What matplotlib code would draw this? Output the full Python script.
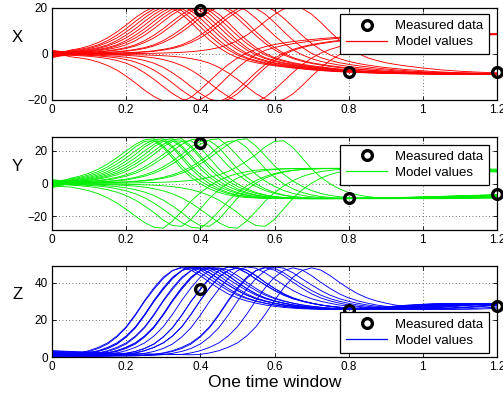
import matplotlib.pyplot as plt
from matplotlib.lines import Line2D
import numpy as np

plt.rcParams['font.family'] = ['Liberation Sans', 'DejaVu Sans']

# time axis of one assimilation window (step 0.025)
t = np.linspace(0.0, 1.2, 49)

# ensemble members (model values), X component
model_x = [
    [1.0, 1.0, 1.4, 2.0, 2.8, 4.0, 5.8, 8.2, 11.0, 14.2, 17.2, 19.6, 20.6, 19.8, 17.3, 13.7, 9.7, 6.0, 2.8, 0.3, -1.6, -2.8, -3.8, -4.5, -5.1, -5.6, -6.1, -6.5, -6.9, -7.2, -7.5, -7.7, -7.9, -8.05, -8.2, -8.3, -8.4, -8.5, -8.6, -8.65, -8.7, -8.75, -8.8, -8.8, -8.8, -8.75, -8.7, -8.6, -8.5],
    [-0.8, 0.5, 1.7, 2.4, 3.5, 5.0, 7.0, 9.6, 12.6, 15.8, 18.5, 20.5, 21.3, 20.8, 18.8, 15.5, 11.8, 8.0, 4.6, 1.8, -0.4, -2.0, -3.2, -4.1, -4.8, -5.4, -5.9, -6.3, -6.7, -7.0, -7.3, -7.6, -7.8, -8.0, -8.1, -8.2, -8.3, -8.4, -8.45, -8.5, -8.55, -8.6, -8.6, -8.6, -8.6, -8.55, -8.5, -8.45, -8.4],
    [1.5, 1.1, 1.0, 1.4, 2.0, 2.8, 4.0, 5.8, 8.2, 11.0, 14.2, 17.2, 19.6, 20.6, 19.8, 17.3, 13.7, 9.7, 6.0, 2.8, 0.3, -1.6, -2.8, -3.8, -4.5, -5.1, -5.6, -6.1, -6.5, -6.9, -7.2, -7.5, -7.7, -7.9, -8.05, -8.2, -8.3, -8.4, -8.5, -8.6, -8.65, -8.7, -8.75, -8.8, -8.8, -8.8, -8.75, -8.7, -8.6],
    [-1.2, 0.0, 1.2, 1.7, 2.4, 3.5, 5.0, 7.0, 9.6, 12.6, 15.8, 18.5, 20.5, 21.3, 20.8, 18.8, 15.5, 11.8, 8.0, 4.6, 1.8, -0.4, -2.0, -3.2, -4.1, -4.8, -5.4, -5.9, -6.3, -6.7, -7.0, -7.3, -7.6, -7.8, -8.0, -8.1, -8.2, -8.3, -8.4, -8.45, -8.5, -8.55, -8.6, -8.6, -8.6, -8.6, -8.55, -8.5, -8.45],
    [0.3, 0.5, 0.75, 1.0, 1.4, 2.0, 2.8, 4.0, 5.8, 8.2, 11.0, 14.2, 17.2, 19.6, 20.6, 19.8, 17.3, 13.7, 9.7, 6.0, 2.8, 0.3, -1.6, -2.8, -3.8, -4.5, -5.1, -5.6, -6.1, -6.5, -6.9, -7.2, -7.5, -7.7, -7.9, -8.05, -8.2, -8.3, -8.4, -8.5, -8.6, -8.65, -8.7, -8.75, -8.8, -8.8, -8.8, -8.75, -8.7],
    [1.2, 0.9, 0.85, 1.2, 1.7, 2.4, 3.5, 5.0, 7.0, 9.6, 12.6, 15.8, 18.5, 20.5, 21.3, 20.8, 18.8, 15.5, 11.8, 8.0, 4.6, 1.8, -0.4, -2.0, -3.2, -4.1, -4.8, -5.4, -5.9, -6.3, -6.7, -7.0, -7.3, -7.6, -7.8, -8.0, -8.1, -8.2, -8.3, -8.4, -8.45, -8.5, -8.55, -8.6, -8.6, -8.6, -8.6, -8.55, -8.5],
    [-0.4, 0.2, 0.6, 0.85, 1.2, 1.7, 2.4, 3.5, 5.0, 7.0, 9.6, 12.6, 15.8, 18.5, 20.5, 21.3, 20.8, 18.8, 15.5, 11.8, 8.0, 4.6, 1.8, -0.4, -2.0, -3.2, -4.1, -4.8, -5.4, -5.9, -6.3, -6.7, -7.0, -7.3, -7.6, -7.8, -8.0, -8.1, -8.2, -8.3, -8.4, -8.45, -8.5, -8.55, -8.6, -8.6, -8.6, -8.6, -8.55],
    [0.9, 0.6, 0.55, 0.75, 1.0, 1.4, 2.0, 2.8, 4.0, 5.8, 8.2, 11.0, 14.2, 17.2, 19.6, 20.6, 19.8, 17.3, 13.7, 9.7, 6.0, 2.8, 0.3, -1.6, -2.8, -3.8, -4.5, -5.1, -5.6, -6.1, -6.5, -6.9, -7.2, -7.5, -7.7, -7.9, -8.05, -8.2, -8.3, -8.4, -8.5, -8.6, -8.65, -8.7, -8.75, -8.8, -8.8, -8.8, -8.75],
    [-0.6, 0.0, 0.42, 0.55, 0.75, 1.0, 1.4, 2.0, 2.8, 4.0, 5.8, 8.2, 11.0, 14.2, 17.2, 19.6, 20.6, 19.8, 17.3, 13.7, 9.7, 6.0, 2.8, 0.3, -1.6, -2.8, -3.8, -4.5, -5.1, -5.6, -6.1, -6.5, -6.9, -7.2, -7.5, -7.7, -7.9, -8.05, -8.2, -8.3, -8.4, -8.5, -8.6, -8.65, -8.7, -8.75, -8.8, -8.8, -8.8],
    [1.3, 0.7, 0.35, 0.45, 0.6, 0.85, 1.2, 1.7, 2.4, 3.5, 5.0, 7.0, 9.6, 12.6, 15.8, 18.5, 20.5, 21.3, 20.8, 18.8, 15.5, 11.8, 8.0, 4.6, 1.8, -0.4, -2.0, -3.2, -4.1, -4.8, -5.4, -5.9, -6.3, -6.7, -7.0, -7.3, -7.6, -7.8, -8.0, -8.1, -8.2, -8.3, -8.4, -8.45, -8.5, -8.55, -8.6, -8.6, -8.6],
    [-1.0, -0.3, 0.25, 0.32, 0.42, 0.55, 0.75, 1.0, 1.4, 2.0, 2.8, 4.0, 5.8, 8.2, 11.0, 14.2, 17.2, 19.6, 20.6, 19.8, 17.3, 13.7, 9.7, 6.0, 2.8, 0.3, -1.6, -2.8, -3.8, -4.5, -5.1, -5.6, -6.1, -6.5, -6.9, -7.2, -7.5, -7.7, -7.9, -8.05, -8.2, -8.3, -8.4, -8.5, -8.6, -8.65, -8.7, -8.75, -8.8],
    [0.6, 0.35, 0.22, 0.28, 0.35, 0.45, 0.6, 0.85, 1.2, 1.7, 2.4, 3.5, 5.0, 7.0, 9.6, 12.6, 15.8, 18.5, 20.5, 21.3, 20.8, 18.8, 15.5, 11.8, 8.0, 4.6, 1.8, -0.4, -2.0, -3.2, -4.1, -4.8, -5.4, -5.9, -6.3, -6.7, -7.0, -7.3, -7.6, -7.8, -8.0, -8.1, -8.2, -8.3, -8.4, -8.45, -8.5, -8.55, -8.6],
    [-0.3, -0.1, 0.1, 0.15, 0.2, 0.25, 0.32, 0.42, 0.55, 0.75, 1.0, 1.4, 2.0, 2.8, 4.0, 5.8, 8.2, 11.0, 14.2, 17.2, 19.6, 20.6, 19.8, 17.3, 13.7, 9.7, 6.0, 2.8, 0.3, -1.6, -2.8, -3.8, -4.5, -5.1, -5.6, -6.1, -6.5, -6.9, -7.2, -7.5, -7.7, -7.9, -8.05, -8.2, -8.3, -8.4, -8.5, -8.6, -8.65],
    [1.6, 0.8, 0.3, 0.12, 0.17, 0.22, 0.28, 0.35, 0.45, 0.6, 0.85, 1.2, 1.7, 2.4, 3.5, 5.0, 7.0, 9.6, 12.6, 15.8, 18.5, 20.5, 21.3, 20.8, 18.8, 15.5, 11.8, 8.0, 4.6, 1.8, -0.4, -2.0, -3.2, -4.1, -4.8, -5.4, -5.9, -6.3, -6.7, -7.0, -7.3, -7.6, -7.8, -8.0, -8.1, -8.2, -8.3, -8.4, -8.45],
    [-1.4, -0.6, -0.1, 0.1, 0.1, 0.1, 0.1, 0.1, 0.15, 0.2, 0.25, 0.32, 0.42, 0.55, 0.75, 1.0, 1.4, 2.0, 2.8, 4.0, 5.8, 8.2, 11.0, 14.2, 17.2, 19.6, 20.6, 19.8, 17.3, 13.7, 9.7, 6.0, 2.8, 0.3, -1.6, -2.8, -3.8, -4.5, -5.1, -5.6, -6.1, -6.5, -6.9, -7.2, -7.5, -7.7, -7.9, -8.05, -8.2],
    [0.4, -0.3, -1.2, -1.7, -2.4, -3.5, -5.0, -7.0, -9.6, -12.6, -15.8, -18.5, -20.5, -21.3, -20.8, -18.8, -15.5, -11.8, -8.0, -4.6, -1.8, 0.4, 2.0, 3.2, 4.1, 4.8, 5.4, 5.9, 6.3, 6.7, 7.0, 7.3, 7.6, 7.8, 8.0, 8.1, 8.2, 8.3, 8.4, 8.45, 8.5, 8.55, 8.6, 8.6, 8.6, 8.6, 8.55, 8.5, 8.45],
    [-1.6, -0.8, -0.55, -0.75, -1.0, -1.4, -2.0, -2.8, -4.0, -5.8, -8.2, -11.0, -14.2, -17.2, -19.6, -20.6, -19.8, -17.3, -13.7, -9.7, -6.0, -2.8, -0.3, 1.6, 2.8, 3.8, 4.5, 5.1, 5.6, 6.1, 6.5, 6.9, 7.2, 7.5, 7.7, 7.9, 8.05, 8.2, 8.3, 8.4, 8.5, 8.6, 8.65, 8.7, 8.75, 8.8, 8.8, 8.8, 8.75],
    [1.0, 0.3, -0.35, -0.45, -0.6, -0.85, -1.2, -1.7, -2.4, -3.5, -5.0, -7.0, -9.6, -12.6, -15.8, -18.5, -20.5, -21.3, -20.8, -18.8, -15.5, -11.8, -8.0, -4.6, -1.8, 0.4, 2.0, 3.2, 4.1, 4.8, 5.4, 5.9, 6.3, 6.7, 7.0, 7.3, 7.6, 7.8, 8.0, 8.1, 8.2, 8.3, 8.4, 8.45, 8.5, 8.55, 8.6, 8.6, 8.6],
    [-0.7, -0.4, -0.25, -0.32, -0.42, -0.55, -0.75, -1.0, -1.4, -2.0, -2.8, -4.0, -5.8, -8.2, -11.0, -14.2, -17.2, -19.6, -20.6, -19.8, -17.3, -13.7, -9.7, -6.0, -2.8, -0.3, 1.6, 2.8, 3.8, 4.5, 5.1, 5.6, 6.1, 6.5, 6.9, 7.2, 7.5, 7.7, 7.9, 8.05, 8.2, 8.3, 8.4, 8.5, 8.6, 8.65, 8.7, 8.75, 8.8],
    [0.8, 0.3, -0.12, -0.17, -0.22, -0.28, -0.35, -0.45, -0.6, -0.85, -1.2, -1.7, -2.4, -3.5, -5.0, -7.0, -9.6, -12.6, -15.8, -18.5, -20.5, -21.3, -20.8, -18.8, -15.5, -11.8, -8.0, -4.6, -1.8, 0.4, 2.0, 3.2, 4.1, 4.8, 5.4, 5.9, 6.3, 6.7, 7.0, 7.3, 7.6, 7.8, 8.0, 8.1, 8.2, 8.3, 8.4, 8.45, 8.5],
    [-1.2, -0.5, -0.1, -0.1, -0.1, -0.1, -0.15, -0.2, -0.25, -0.32, -0.42, -0.55, -0.75, -1.0, -1.4, -2.0, -2.8, -4.0, -5.8, -8.2, -11.0, -14.2, -17.2, -19.6, -20.6, -19.8, -17.3, -13.7, -9.7, -6.0, -2.8, -0.3, 1.6, 2.8, 3.8, 4.5, 5.1, 5.6, 6.1, 6.5, 6.9, 7.2, 7.5, 7.7, 7.9, 8.05, 8.2, 8.3, 8.4],
]

# Y component
model_y = [
    [2.0, 1.9, 2.7, 3.8, 5.3, 7.4, 10.2, 13.8, 17.8, 22.5, 25.8, 26.2, 22.0, 15.5, 9.0, 3.8, -0.2, -3.3, -5.5, -7.0, -8.0, -8.6, -8.9, -9.1, -9.2, -9.25, -9.3, -9.3, -9.3, -9.25, -9.2, -9.15, -9.1, -9.05, -9.0, -8.9, -8.8, -8.7, -8.6, -8.45, -8.3, -8.15, -8.0, -7.8, -7.6, -7.45, -7.3, -7.15, -7.0],
    [-1.0, 0.8, 3.2, 4.5, 6.3, 8.8, 12.0, 15.8, 20.0, 24.0, 26.8, 27.4, 23.0, 17.0, 10.8, 5.6, 1.5, -1.8, -4.3, -6.1, -7.3, -8.1, -8.6, -8.9, -9.05, -9.15, -9.2, -9.2, -9.2, -9.15, -9.1, -9.05, -9.0, -8.95, -8.9, -8.8, -8.7, -8.6, -8.5, -8.35, -8.2, -8.05, -7.9, -7.7, -7.5, -7.35, -7.2, -7.05, -6.9],
    [0.5, 1.4, 1.9, 2.7, 3.8, 5.3, 7.4, 10.2, 13.8, 17.8, 22.5, 25.8, 26.2, 22.0, 15.5, 9.0, 3.8, -0.2, -3.3, -5.5, -7.0, -8.0, -8.6, -8.9, -9.1, -9.2, -9.25, -9.3, -9.3, -9.3, -9.25, -9.2, -9.15, -9.1, -9.05, -9.0, -8.9, -8.8, -8.7, -8.6, -8.45, -8.3, -8.15, -8.0, -7.8, -7.6, -7.45, -7.3, -7.15],
    [1.8, 1.6, 2.2, 3.2, 4.5, 6.3, 8.8, 12.0, 15.8, 20.0, 24.0, 26.8, 27.4, 23.0, 17.0, 10.8, 5.6, 1.5, -1.8, -4.3, -6.1, -7.3, -8.1, -8.6, -8.9, -9.05, -9.15, -9.2, -9.2, -9.2, -9.15, -9.1, -9.05, -9.0, -8.95, -8.9, -8.8, -8.7, -8.6, -8.5, -8.35, -8.2, -8.05, -7.9, -7.7, -7.5, -7.35, -7.2, -7.05],
    [-1.5, 0.0, 1.4, 1.9, 2.7, 3.8, 5.3, 7.4, 10.2, 13.8, 17.8, 22.5, 25.8, 26.2, 22.0, 15.5, 9.0, 3.8, -0.2, -3.3, -5.5, -7.0, -8.0, -8.6, -8.9, -9.1, -9.2, -9.25, -9.3, -9.3, -9.3, -9.25, -9.2, -9.15, -9.1, -9.05, -9.0, -8.9, -8.8, -8.7, -8.6, -8.45, -8.3, -8.15, -8.0, -7.8, -7.6, -7.45, -7.3],
    [0.2, 1.2, 1.6, 2.2, 3.2, 4.5, 6.3, 8.8, 12.0, 15.8, 20.0, 24.0, 26.8, 27.4, 23.0, 17.0, 10.8, 5.6, 1.5, -1.8, -4.3, -6.1, -7.3, -8.1, -8.6, -8.9, -9.05, -9.15, -9.2, -9.2, -9.2, -9.15, -9.1, -9.05, -9.0, -8.95, -8.9, -8.8, -8.7, -8.6, -8.5, -8.35, -8.2, -8.05, -7.9, -7.7, -7.5, -7.35, -7.2],
    [2.4, 1.5, 1.2, 1.6, 2.2, 3.2, 4.5, 6.3, 8.8, 12.0, 15.8, 20.0, 24.0, 26.8, 27.4, 23.0, 17.0, 10.8, 5.6, 1.5, -1.8, -4.3, -6.1, -7.3, -8.1, -8.6, -8.9, -9.05, -9.15, -9.2, -9.2, -9.2, -9.15, -9.1, -9.05, -9.0, -8.95, -8.9, -8.8, -8.7, -8.6, -8.5, -8.35, -8.2, -8.05, -7.9, -7.7, -7.5, -7.35],
    [-0.6, 0.3, 1.0, 1.4, 1.9, 2.7, 3.8, 5.3, 7.4, 10.2, 13.8, 17.8, 22.5, 25.8, 26.2, 22.0, 15.5, 9.0, 3.8, -0.2, -3.3, -5.5, -7.0, -8.0, -8.6, -8.9, -9.1, -9.2, -9.25, -9.3, -9.3, -9.3, -9.25, -9.2, -9.15, -9.1, -9.05, -9.0, -8.9, -8.8, -8.7, -8.6, -8.45, -8.3, -8.15, -8.0, -7.8, -7.6, -7.45],
    [1.2, 0.8, 0.8, 1.0, 1.4, 1.9, 2.7, 3.8, 5.3, 7.4, 10.2, 13.8, 17.8, 22.5, 25.8, 26.2, 22.0, 15.5, 9.0, 3.8, -0.2, -3.3, -5.5, -7.0, -8.0, -8.6, -8.9, -9.1, -9.2, -9.25, -9.3, -9.3, -9.3, -9.25, -9.2, -9.15, -9.1, -9.05, -9.0, -8.9, -8.8, -8.7, -8.6, -8.45, -8.3, -8.15, -8.0, -7.8, -7.6],
    [-2.0, -0.6, 0.7, 0.9, 1.2, 1.6, 2.2, 3.2, 4.5, 6.3, 8.8, 12.0, 15.8, 20.0, 24.0, 26.8, 27.4, 23.0, 17.0, 10.8, 5.6, 1.5, -1.8, -4.3, -6.1, -7.3, -8.1, -8.6, -8.9, -9.05, -9.15, -9.2, -9.2, -9.2, -9.15, -9.1, -9.05, -9.0, -8.95, -8.9, -8.8, -8.7, -8.6, -8.5, -8.35, -8.2, -8.05, -7.9, -7.7],
    [0.8, 0.5, 0.5, 0.6, 0.8, 1.0, 1.4, 1.9, 2.7, 3.8, 5.3, 7.4, 10.2, 13.8, 17.8, 22.5, 25.8, 26.2, 22.0, 15.5, 9.0, 3.8, -0.2, -3.3, -5.5, -7.0, -8.0, -8.6, -8.9, -9.1, -9.2, -9.25, -9.3, -9.3, -9.3, -9.25, -9.2, -9.15, -9.1, -9.05, -9.0, -8.9, -8.8, -8.7, -8.6, -8.45, -8.3, -8.15, -8.0],
    [-0.3, 0.1, 0.45, 0.55, 0.7, 0.9, 1.2, 1.6, 2.2, 3.2, 4.5, 6.3, 8.8, 12.0, 15.8, 20.0, 24.0, 26.8, 27.4, 23.0, 17.0, 10.8, 5.6, 1.5, -1.8, -4.3, -6.1, -7.3, -8.1, -8.6, -8.9, -9.05, -9.15, -9.2, -9.2, -9.2, -9.15, -9.1, -9.05, -9.0, -8.95, -8.9, -8.8, -8.7, -8.6, -8.5, -8.35, -8.2, -8.05],
    [1.5, 0.8, 0.3, 0.3, 0.4, 0.5, 0.6, 0.8, 1.0, 1.4, 1.9, 2.7, 3.8, 5.3, 7.4, 10.2, 13.8, 17.8, 22.5, 25.8, 26.2, 22.0, 15.5, 9.0, 3.8, -0.2, -3.3, -5.5, -7.0, -8.0, -8.6, -8.9, -9.1, -9.2, -9.25, -9.3, -9.3, -9.3, -9.25, -9.2, -9.15, -9.1, -9.05, -9.0, -8.9, -8.8, -8.7, -8.6, -8.45],
    [-1.1, -0.3, 0.1, 0.25, 0.35, 0.45, 0.55, 0.7, 0.9, 1.2, 1.6, 2.2, 3.2, 4.5, 6.3, 8.8, 12.0, 15.8, 20.0, 24.0, 26.8, 27.4, 23.0, 17.0, 10.8, 5.6, 1.5, -1.8, -4.3, -6.1, -7.3, -8.1, -8.6, -8.9, -9.05, -9.15, -9.2, -9.2, -9.2, -9.15, -9.1, -9.05, -9.0, -8.95, -8.9, -8.8, -8.7, -8.6, -8.5],
    [0.4, 0.3, 0.2, 0.2, 0.2, 0.2, 0.2, 0.2, 0.3, 0.4, 0.5, 0.6, 0.8, 1.0, 1.4, 1.9, 2.7, 3.8, 5.3, 7.4, 10.2, 13.8, 17.8, 22.5, 25.8, 26.2, 22.0, 15.5, 9.0, 3.8, -0.2, -3.3, -5.5, -7.0, -8.0, -8.6, -8.9, -9.1, -9.2, -9.25, -9.3, -9.3, -9.3, -9.25, -9.2, -9.15, -9.1, -9.05, -9.0],
    [-2.2, -1.8, -2.2, -3.2, -4.5, -6.3, -8.8, -12.0, -15.8, -20.0, -24.0, -26.8, -27.4, -23.0, -17.0, -10.8, -5.6, -1.5, 1.8, 4.3, 6.1, 7.3, 8.1, 8.6, 8.9, 9.05, 9.15, 9.2, 9.2, 9.2, 9.15, 9.1, 9.05, 9.0, 8.95, 8.9, 8.8, 8.7, 8.6, 8.5, 8.35, 8.2, 8.05, 7.9, 7.7, 7.5, 7.35, 7.2, 7.05],
    [0.6, -0.2, -1.0, -1.4, -1.9, -2.7, -3.8, -5.3, -7.4, -10.2, -13.8, -17.8, -22.5, -25.8, -26.2, -22.0, -15.5, -9.0, -3.8, 0.2, 3.3, 5.5, 7.0, 8.0, 8.6, 8.9, 9.1, 9.2, 9.25, 9.3, 9.3, 9.3, 9.25, 9.2, 9.15, 9.1, 9.05, 9.0, 8.9, 8.8, 8.7, 8.6, 8.45, 8.3, 8.15, 8.0, 7.8, 7.6, 7.45],
    [-1.4, -0.9, -0.7, -0.9, -1.2, -1.6, -2.2, -3.2, -4.5, -6.3, -8.8, -12.0, -15.8, -20.0, -24.0, -26.8, -27.4, -23.0, -17.0, -10.8, -5.6, -1.5, 1.8, 4.3, 6.1, 7.3, 8.1, 8.6, 8.9, 9.05, 9.15, 9.2, 9.2, 9.2, 9.15, 9.1, 9.05, 9.0, 8.95, 8.9, 8.8, 8.7, 8.6, 8.5, 8.35, 8.2, 8.05, 7.9, 7.7],
    [1.8, 0.6, -0.5, -0.6, -0.8, -1.0, -1.4, -1.9, -2.7, -3.8, -5.3, -7.4, -10.2, -13.8, -17.8, -22.5, -25.8, -26.2, -22.0, -15.5, -9.0, -3.8, 0.2, 3.3, 5.5, 7.0, 8.0, 8.6, 8.9, 9.1, 9.2, 9.25, 9.3, 9.3, 9.3, 9.25, 9.2, 9.15, 9.1, 9.05, 9.0, 8.9, 8.8, 8.7, 8.6, 8.45, 8.3, 8.15, 8.0],
    [-0.9, -0.5, -0.25, -0.35, -0.45, -0.55, -0.7, -0.9, -1.2, -1.6, -2.2, -3.2, -4.5, -6.3, -8.8, -12.0, -15.8, -20.0, -24.0, -26.8, -27.4, -23.0, -17.0, -10.8, -5.6, -1.5, 1.8, 4.3, 6.1, 7.3, 8.1, 8.6, 8.9, 9.05, 9.15, 9.2, 9.2, 9.2, 9.15, 9.1, 9.05, 9.0, 8.95, 8.9, 8.8, 8.7, 8.6, 8.5, 8.35],
    [-2.4, -1.0, -0.3, -0.2, -0.2, -0.2, -0.3, -0.4, -0.5, -0.6, -0.8, -1.0, -1.4, -1.9, -2.7, -3.8, -5.3, -7.4, -10.2, -13.8, -17.8, -22.5, -25.8, -26.2, -22.0, -15.5, -9.0, -3.8, 0.2, 3.3, 5.5, 7.0, 8.0, 8.6, 8.9, 9.1, 9.2, 9.25, 9.3, 9.3, 9.3, 9.25, 9.2, 9.15, 9.1, 9.05, 9.0, 8.9, 8.8],
]

# Z component
model_z = [
    [0.9, 0.9, 1.4, 2.2, 3.4, 5.2, 7.6, 11.3, 16.3, 23.0, 30.5, 37.3, 43.0, 46.6, 48.0, 46.8, 43.8, 40.2, 36.9, 34.0, 31.8, 30.2, 29.0, 28.0, 27.3, 26.7, 26.3, 26.0, 25.8, 25.7, 25.7, 25.7, 25.8, 26.0, 26.3, 26.6, 26.9, 27.3, 27.7, 28.0, 28.3, 28.5, 28.6, 28.6, 28.5, 28.3, 28.0, 27.8, 27.6],
    [2.0, 1.9, 1.8, 2.0, 3.0, 4.6, 7.0, 10.8, 15.8, 22.5, 30.0, 36.5, 42.3, 46.5, 48.5, 47.8, 45.3, 42.0, 38.8, 35.8, 33.3, 31.4, 30.0, 28.9, 28.0, 27.3, 26.8, 26.4, 26.1, 25.9, 25.8, 25.8, 25.9, 26.1, 26.4, 26.7, 27.0, 27.4, 27.8, 28.1, 28.4, 28.6, 28.7, 28.7, 28.6, 28.4, 28.2, 27.9, 27.7],
    [1.0, 0.95, 0.95, 1.4, 2.2, 3.4, 5.2, 7.6, 11.3, 16.3, 23.0, 30.5, 37.3, 43.0, 46.6, 48.0, 46.8, 43.8, 40.2, 36.9, 34.0, 31.8, 30.2, 29.0, 28.0, 27.3, 26.7, 26.3, 26.0, 25.8, 25.7, 25.7, 25.7, 25.8, 26.0, 26.3, 26.6, 26.9, 27.3, 27.7, 28.0, 28.3, 28.5, 28.6, 28.6, 28.5, 28.3, 28.0, 27.8],
    [3.2, 3.0, 2.8, 2.6, 2.6, 3.2, 4.6, 7.0, 10.8, 15.8, 22.5, 30.0, 36.5, 42.3, 46.5, 48.5, 47.8, 45.3, 42.0, 38.8, 35.8, 33.3, 31.4, 30.0, 28.9, 28.0, 27.3, 26.8, 26.4, 26.1, 25.9, 25.8, 25.8, 25.9, 26.1, 26.4, 26.7, 27.0, 27.4, 27.8, 28.1, 28.4, 28.6, 28.7, 28.7, 28.6, 28.4, 28.2, 27.9],
    [0.3, 0.4, 0.6, 0.9, 1.4, 2.2, 3.4, 5.2, 7.6, 11.3, 16.3, 23.0, 30.5, 37.3, 43.0, 46.6, 48.0, 46.8, 43.8, 40.2, 36.9, 34.0, 31.8, 30.2, 29.0, 28.0, 27.3, 26.7, 26.3, 26.0, 25.8, 25.7, 25.7, 25.7, 25.8, 26.0, 26.3, 26.6, 26.9, 27.3, 27.7, 28.0, 28.3, 28.5, 28.6, 28.6, 28.5, 28.3, 28.0],
    [1.2, 1.1, 1.0, 1.0, 1.3, 2.0, 3.0, 4.6, 7.0, 10.8, 15.8, 22.5, 30.0, 36.5, 42.3, 46.5, 48.5, 47.8, 45.3, 42.0, 38.8, 35.8, 33.3, 31.4, 30.0, 28.9, 28.0, 27.3, 26.8, 26.4, 26.1, 25.9, 25.8, 25.8, 25.9, 26.1, 26.4, 26.7, 27.0, 27.4, 27.8, 28.1, 28.4, 28.6, 28.7, 28.7, 28.6, 28.4, 28.2],
    [2.6, 2.4, 2.2, 2.1, 2.0, 2.0, 2.3, 3.0, 4.6, 7.0, 10.8, 15.8, 22.5, 30.0, 36.5, 42.3, 46.5, 48.5, 47.8, 45.3, 42.0, 38.8, 35.8, 33.3, 31.4, 30.0, 28.9, 28.0, 27.3, 26.8, 26.4, 26.1, 25.9, 25.8, 25.8, 25.9, 26.1, 26.4, 26.7, 27.0, 27.4, 27.8, 28.1, 28.4, 28.6, 28.7, 28.7, 28.6, 28.4],
    [0.8, 0.75, 0.7, 0.7, 0.9, 1.4, 2.2, 3.4, 5.2, 7.6, 11.3, 16.3, 23.0, 30.5, 37.3, 43.0, 46.6, 48.0, 46.8, 43.8, 40.2, 36.9, 34.0, 31.8, 30.2, 29.0, 28.0, 27.3, 26.7, 26.3, 26.0, 25.8, 25.7, 25.7, 25.7, 25.8, 26.0, 26.3, 26.6, 26.9, 27.3, 27.7, 28.0, 28.3, 28.5, 28.6, 28.6, 28.5, 28.3],
    [1.8, 1.7, 1.6, 1.5, 1.4, 1.3, 1.4, 2.2, 3.4, 5.2, 7.6, 11.3, 16.3, 23.0, 30.5, 37.3, 43.0, 46.6, 48.0, 46.8, 43.8, 40.2, 36.9, 34.0, 31.8, 30.2, 29.0, 28.0, 27.3, 26.7, 26.3, 26.0, 25.8, 25.7, 25.7, 25.7, 25.8, 26.0, 26.3, 26.6, 26.9, 27.3, 27.7, 28.0, 28.3, 28.5, 28.6, 28.6, 28.5],
    [0.2, 0.3, 0.4, 0.5, 0.5, 0.7, 0.9, 1.3, 2.0, 3.0, 4.6, 7.0, 10.8, 15.8, 22.5, 30.0, 36.5, 42.3, 46.5, 48.5, 47.8, 45.3, 42.0, 38.8, 35.8, 33.3, 31.4, 30.0, 28.9, 28.0, 27.3, 26.8, 26.4, 26.1, 25.9, 25.8, 25.8, 25.9, 26.1, 26.4, 26.7, 27.0, 27.4, 27.8, 28.1, 28.4, 28.6, 28.7, 28.7],
    [1.1, 1.0, 0.9, 0.8, 0.7, 0.6, 0.6, 0.9, 1.4, 2.2, 3.4, 5.2, 7.6, 11.3, 16.3, 23.0, 30.5, 37.3, 43.0, 46.6, 48.0, 46.8, 43.8, 40.2, 36.9, 34.0, 31.8, 30.2, 29.0, 28.0, 27.3, 26.7, 26.3, 26.0, 25.8, 25.7, 25.7, 25.7, 25.8, 26.0, 26.3, 26.6, 26.9, 27.3, 27.7, 28.0, 28.3, 28.5, 28.6],
    [2.2, 2.05, 1.9, 1.8, 1.7, 1.6, 1.5, 1.4, 1.3, 1.3, 2.0, 3.0, 4.6, 7.0, 10.8, 15.8, 22.5, 30.0, 36.5, 42.3, 46.5, 48.5, 47.8, 45.3, 42.0, 38.8, 35.8, 33.3, 31.4, 30.0, 28.9, 28.0, 27.3, 26.8, 26.4, 26.1, 25.9, 25.8, 25.8, 25.9, 26.1, 26.4, 26.7, 27.0, 27.4, 27.8, 28.1, 28.4, 28.6],
    [0.1, 0.15, 0.2, 0.25, 0.3, 0.35, 0.4, 0.45, 0.5, 0.6, 0.9, 1.4, 2.2, 3.4, 5.2, 7.6, 11.3, 16.3, 23.0, 30.5, 37.3, 43.0, 46.6, 48.0, 46.8, 43.8, 40.2, 36.9, 34.0, 31.8, 30.2, 29.0, 28.0, 27.3, 26.7, 26.3, 26.0, 25.8, 25.7, 25.7, 25.7, 25.8, 26.0, 26.3, 26.6, 26.9, 27.3, 27.7, 28.0],
    [1.5, 1.4, 1.3, 1.2, 1.1, 1.0, 0.95, 0.9, 0.85, 0.8, 0.8, 0.9, 1.3, 2.0, 3.0, 4.6, 7.0, 10.8, 15.8, 22.5, 30.0, 36.5, 42.3, 46.5, 48.5, 47.8, 45.3, 42.0, 38.8, 35.8, 33.3, 31.4, 30.0, 28.9, 28.0, 27.3, 26.8, 26.4, 26.1, 25.9, 25.8, 25.8, 25.9, 26.1, 26.4, 26.7, 27.0, 27.4, 27.8],
    [3.4, 3.2, 3.0, 2.8, 2.6, 2.4, 2.25, 2.1, 1.95, 1.8, 1.7, 1.6, 1.5, 1.4, 1.3, 1.2, 1.4, 2.2, 3.4, 5.2, 7.6, 11.3, 16.3, 23.0, 30.5, 37.3, 43.0, 46.6, 48.0, 46.8, 43.8, 40.2, 36.9, 34.0, 31.8, 30.2, 29.0, 28.0, 27.3, 26.7, 26.3, 26.0, 25.8, 25.7, 25.7, 25.7, 25.8, 26.0, 26.3],
    [2.5, 2.35, 2.2, 2.1, 2.1, 3.0, 4.6, 7.0, 10.8, 15.8, 22.5, 30.0, 36.5, 42.3, 46.5, 48.5, 47.8, 45.3, 42.0, 38.8, 35.8, 33.3, 31.4, 30.0, 28.9, 28.0, 27.3, 26.8, 26.4, 26.1, 25.9, 25.8, 25.8, 25.9, 26.1, 26.4, 26.7, 27.0, 27.4, 27.8, 28.1, 28.4, 28.6, 28.7, 28.7, 28.6, 28.4, 28.2, 27.9],
    [1.0, 0.95, 0.9, 0.85, 0.9, 1.4, 2.2, 3.4, 5.2, 7.6, 11.3, 16.3, 23.0, 30.5, 37.3, 43.0, 46.6, 48.0, 46.8, 43.8, 40.2, 36.9, 34.0, 31.8, 30.2, 29.0, 28.0, 27.3, 26.7, 26.3, 26.0, 25.8, 25.7, 25.7, 25.7, 25.8, 26.0, 26.3, 26.6, 26.9, 27.3, 27.7, 28.0, 28.3, 28.5, 28.6, 28.6, 28.5, 28.3],
    [0.4, 0.45, 0.5, 0.5, 0.5, 0.7, 0.9, 1.3, 2.0, 3.0, 4.6, 7.0, 10.8, 15.8, 22.5, 30.0, 36.5, 42.3, 46.5, 48.5, 47.8, 45.3, 42.0, 38.8, 35.8, 33.3, 31.4, 30.0, 28.9, 28.0, 27.3, 26.8, 26.4, 26.1, 25.9, 25.8, 25.8, 25.9, 26.1, 26.4, 26.7, 27.0, 27.4, 27.8, 28.1, 28.4, 28.6, 28.7, 28.7],
    [0.3, 0.35, 0.4, 0.45, 0.5, 0.5, 0.6, 0.9, 1.4, 2.2, 3.4, 5.2, 7.6, 11.3, 16.3, 23.0, 30.5, 37.3, 43.0, 46.6, 48.0, 46.8, 43.8, 40.2, 36.9, 34.0, 31.8, 30.2, 29.0, 28.0, 27.3, 26.7, 26.3, 26.0, 25.8, 25.7, 25.7, 25.7, 25.8, 26.0, 26.3, 26.6, 26.9, 27.3, 27.7, 28.0, 28.3, 28.5, 28.6],
    [1.5, 1.4, 1.3, 1.2, 1.1, 1.0, 0.95, 0.9, 0.85, 0.8, 0.9, 1.3, 2.0, 3.0, 4.6, 7.0, 10.8, 15.8, 22.5, 30.0, 36.5, 42.3, 46.5, 48.5, 47.8, 45.3, 42.0, 38.8, 35.8, 33.3, 31.4, 30.0, 28.9, 28.0, 27.3, 26.8, 26.4, 26.1, 25.9, 25.8, 25.8, 25.9, 26.1, 26.4, 26.7, 27.0, 27.4, 27.8, 28.1],
    [2.9, 2.7, 2.55, 2.4, 2.25, 2.1, 1.95, 1.8, 1.7, 1.6, 1.5, 1.4, 1.35, 1.3, 1.4, 2.2, 3.4, 5.2, 7.6, 11.3, 16.3, 23.0, 30.5, 37.3, 43.0, 46.6, 48.0, 46.8, 43.8, 40.2, 36.9, 34.0, 31.8, 30.2, 29.0, 28.0, 27.3, 26.7, 26.3, 26.0, 25.8, 25.7, 25.7, 25.7, 25.8, 26.0, 26.3, 26.6, 26.9],
]

# observations inside the window
obs_t = [0.4, 0.8, 1.2]
obs_x = [19.1, -7.8, -8.0]
obs_y = [24.6, -9.0, -6.5]
obs_z = [36.6, 25.2, 27.6]

panels = [
    ('X', model_x, obs_x, '#ff0000', (-20, 20), [-20, 0, 20], 'upper right', (0.982, 0.935)),
    ('Y', model_y, obs_y, '#00ee00', (-28.5, 28.5), [-20, 0, 20], 'upper right', (0.982, 0.917)),
    ('Z', model_z, obs_z, '#0000ff', (0, 49), [0, 20, 40], 'lower right', (0.982, 0.047)),
]

W, H = 503, 403
fig = plt.figure(figsize=(W / 100, H / 100), dpi=100)
boxes = [(8, 100), (137, 230), (266, 357)]

for (name, runs, obs, color, ylim, yticks, loc, anchor), (top, bot) in zip(panels, boxes):
    ax = fig.add_axes([52 / W, (H - bot) / H, 445 / W, (bot - top) / H])
    for run in runs:
        ax.plot(t, run, color=color, lw=0.65)
    ax.plot(obs_t, obs, 'o', ms=7, mfc='none', mec='k', mew=2.4,
            clip_on=False, zorder=5)

    ax.set_xlim(0, 1.2)
    ax.set_ylim(*ylim)
    ax.set_xticks([0, 0.2, 0.4, 0.6, 0.8, 1.0, 1.2])
    ax.set_xticklabels(['0', '0.2', '0.4', '0.6', '0.8', '1', '1.2'])
    ax.set_yticks(yticks)
    ax.tick_params(direction='in', top=True, right=True, length=3,
                   width=0.6, labelsize=8.5, pad=3)
    ax.grid(True, color='0.25', linestyle=(0, (1, 3)), linewidth=0.6)
    for sp in ax.spines.values():
        sp.set_linewidth(0.9)

    ax.set_ylabel(name, rotation=0, fontsize=12)
    ax.yaxis.set_label_coords(-0.078, 0.6)

    # legend entries
    h_obs = Line2D([], [], linestyle='none', marker='o', ms=7, mfc='none',
                   mec='k', mew=2.4)
    h_mod = Line2D([], [], color=color, lw=0.9)
    leg = ax.legend([h_obs, h_mod], ['Measured data', 'Model values'],
                    loc=loc, bbox_to_anchor=anchor, borderaxespad=0,
                    fontsize=9.5, fancybox=False, framealpha=1,
                    edgecolor='k', numpoints=1, handlelength=3.1,
                    handletextpad=0.6, borderpad=0.45, labelspacing=0.3)
    leg.get_frame().set_linewidth(0.9)

    if name == 'Z':
        ax.set_xlabel('One time window', fontsize=12.5, labelpad=1)

fig.savefig('out.png', dpi=100)
